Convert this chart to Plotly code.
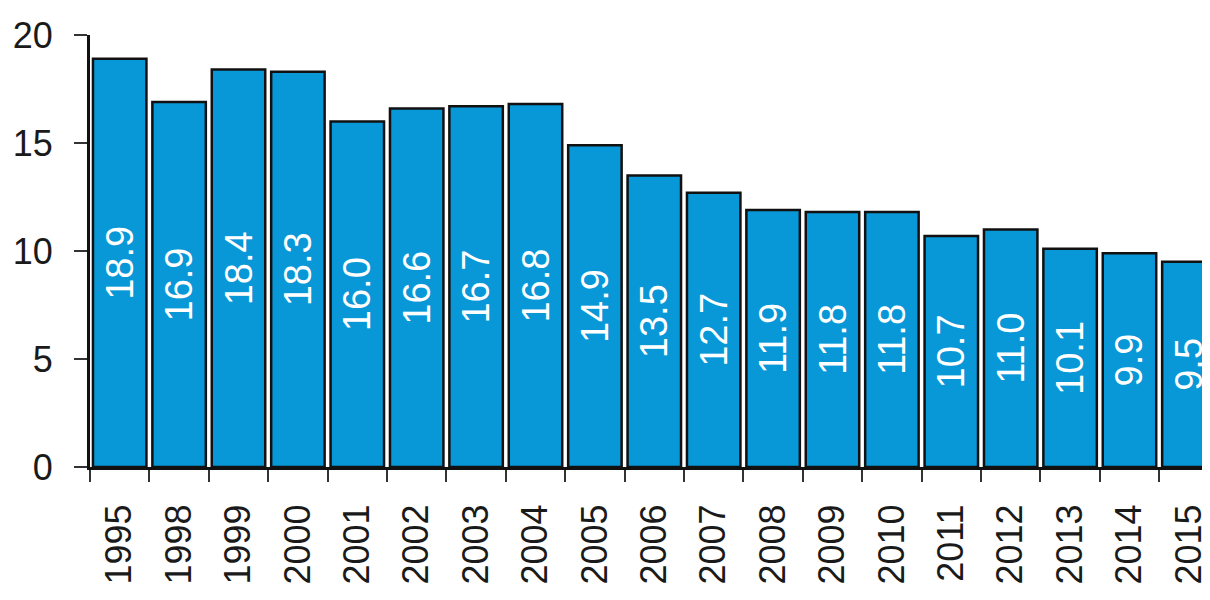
import plotly.graph_objects as go

years = ["1995", "1998", "1999", "2000", "2001", "2002", "2003", "2004", "2005", "2006",
         "2007", "2008", "2009", "2010", "2011", "2012", "2013", "2014", "2015"]
values = [18.9, 16.9, 18.4, 18.3, 16.0, 16.6, 16.7, 16.8, 14.9, 13.5,
          12.7, 11.9, 11.8, 11.8, 10.7, 11.0, 10.1, 9.9, 9.5]
y_ticks = [0, 5, 10, 15, 20]

FONT = "Liberation Sans, Arial, sans-serif"

fig = go.Figure(go.Bar(
    x=years,
    y=values,
    text=[f"{v:.1f}" for v in values],
    textposition="inside",
    insidetextanchor="middle",
    textangle=-90,
    constraintext="none",
    textfont=dict(family=FONT, size=38, color="white"),
    marker=dict(color="#0898d8", line=dict(color="#111111", width=2.5)),
    cliponaxis=False,
))

# page body has an 8px default margin; margins compensate for it
fig.update_layout(
    width=1210, height=600,
    margin=dict(l=82, r=0, t=27, b=141, autoexpand=False),
    paper_bgcolor="white", plot_bgcolor="white",
    bargap=0.1,
    showlegend=False,
    font=dict(family=FONT, color="#1a1a1a"),
)
fig.update_xaxes(
    type="category",
    range=[-0.5, 18.49],
    automargin=False,
    showline=True, linecolor="#111111", linewidth=3,
    ticks="outside", tickson="boundaries", ticklen=12, tickwidth=2, tickcolor="#333333",
    tickangle=-90,
    ticklabelstandoff=20,
    tickfont=dict(size=36, color="#1a1a1a"),
    showgrid=False, zeroline=False,
)
fig.update_yaxes(
    range=[0, 20],
    tickvals=y_ticks,
    automargin=False,
    showline=True, linecolor="#111111", linewidth=3,
    ticks="outside", ticklen=13, tickwidth=2, tickcolor="#333333",
    ticklabelstandoff=14,
    tickfont=dict(size=36, color="#1a1a1a"),
    showgrid=False, zeroline=False,
)

fig.write_html("out.html")
